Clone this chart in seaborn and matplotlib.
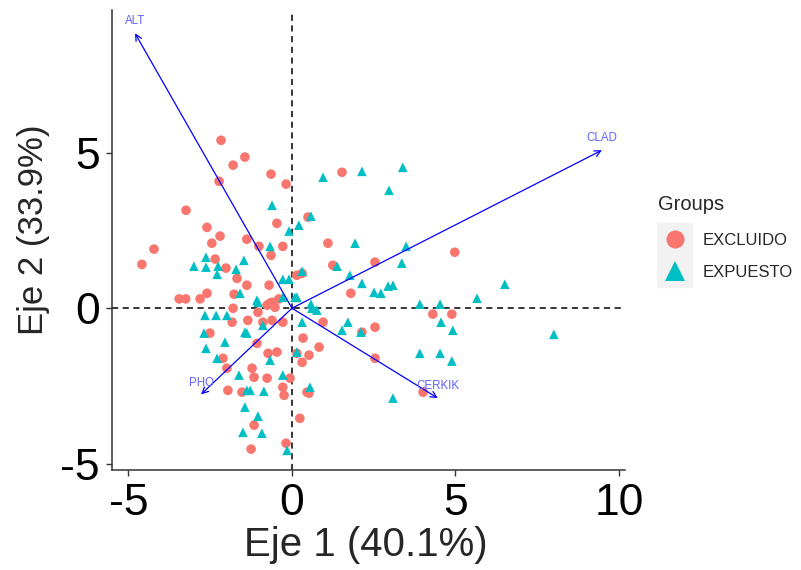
import numpy as np
import pandas as pd
import matplotlib
matplotlib.use("Agg")
import matplotlib.pyplot as plt
import seaborn as sns
from matplotlib.lines import Line2D
from matplotlib.patches import Rectangle

# PCA scores
excl_x = [-2.17, -1.44, -1.80, -0.64, -0.18, -2.23, -3.24, -2.60, -2.20, -2.45,
          -1.38, -4.22, -4.59, -0.46, -1.01, -0.28, -0.64, -2.35, -2.02, -1.68,
          -1.38, -0.70, -2.60, -1.77, 0.15, 0.31, 0.49, -3.45, -3.25, -2.81,
          -0.67, -0.52, -0.76, -0.61, -1.35, -1.80, -0.89, -0.61, -0.28, -2.51,
          -1.07, 0.34, -0.73, -0.46, 0.15, 0.31, -2.11, -1.99, -1.22, -1.16,
          -0.76, -0.06, -0.28, -1.96, -1.53, -0.24, 0.46, 0.24, -1.16, -1.25,
          -0.18, 1.53, 1.10, 2.54, 4.98, 1.25, 1.80, 4.31, 4.89, 0.95,
          2.54, 2.14, 0.83, 0.52, 2.54, 0.52, 4.01, -1.04, -1.83, -0.40]
excl_y = [5.40, 4.86, 4.60, 4.31, 3.99, 4.08, 3.15, 2.60, 2.32, 2.09,
          2.22, 1.90, 1.41, 2.73, 1.99, 1.99, 1.70, 1.58, 1.29, 0.96,
          0.74, 0.74, 0.48, 0.45, 1.06, 1.12, 2.93, 0.30, 0.30, 0.30,
          0.16, 0.03, 0.10, 0.19, -0.39, 0.00, -0.45, -0.39, -0.45, -0.80,
          -1.13, -0.96, -1.45, -1.41, -1.45, -1.74, -1.61, -1.93, -1.93, -2.22,
          -2.25, -2.25, -2.54, -2.64, -2.70, -2.80, -2.70, -3.54, -3.76, -4.53,
          -4.34, 4.37, 2.09, 1.48, 1.80, 1.38, 0.48, -0.19, -0.19, -0.45,
          -0.61, -0.77, -1.25, -1.51, -1.61, -2.73, -2.70, -0.13, -0.45, 0.30]

expu_x = [-0.61, -0.09, 0.21, -0.67, -2.63, -3.00, -2.63, -2.26, -2.29, -1.71,
          -1.47, -0.28, -0.09, 0.31, -1.59, -1.07, 0.15, -0.28, -2.66, -2.32,
          -1.99, -0.89, 0.31, -2.69, -1.38, -2.05, -2.63, -2.29, -0.67, -1.62,
          -0.28, -1.38, -1.28, -0.86, -1.44, -1.04, -1.50, -0.92, -0.15, 0.95,
          2.14, 3.39, 2.97, 0.58, 1.93, 3.49, 1.38, 3.36, 1.77, 2.14,
          2.51, 2.72, 2.94, 3.09, 0.09, 0.58, 3.91, 4.53, 5.66, 0.76,
          1.71, 1.53, 2.11, 4.56, 4.92, 0.15, 3.91, 4.53, 4.89, 0.55,
          3.09, 6.51, 8.01, 0.61, -1.04, -1.44]
expu_y = [3.31, 2.48, 2.67, 1.99, 1.64, 1.35, 1.32, 1.35, 1.09, 1.25,
          1.54, 0.93, 0.93, 1.19, 0.48, 0.26, 0.35, 0.35, -0.23, -0.23,
          -0.23, -0.55, -0.45, -0.80, -0.80, -1.09, -1.29, -1.61, -1.67, -2.15,
          -2.15, -2.64, -2.64, -2.67, -3.18, -3.47, -3.99, -4.02, -4.57, 4.21,
          4.40, 4.53, 3.79, 2.96, 2.09, 1.99, 1.35, 1.45, 1.06, 0.80,
          0.51, 0.48, 0.71, 0.74, 0.35, 0.13, 0.13, 0.13, 0.32, -0.06,
          -0.45, -0.71, -0.77, -0.45, -0.71, -1.41, -1.45, -1.45, -1.70, -2.54,
          -2.89, 0.77, -0.84, 0.00, 0.19, -0.77]

# variable loadings (arrow tips)
var_names = ["ALT", "CLAD", "PHO", "CERKIK"]
var_x = [-4.80, 9.48, -2.78, 4.46]
var_y = [8.84, 5.08, -2.77, -2.89]

groups = ["EXCLUIDO", "EXPUESTO"]
colors = {"EXCLUIDO": "#F8766D", "EXPUESTO": "#00BFC4"}

df = pd.DataFrame({
    "PC1": excl_x + expu_x,
    "PC2": excl_y + expu_y,
    "Groups": ["EXCLUIDO"] * len(excl_x) + ["EXPUESTO"] * len(expu_x),
})

sns.set_style("ticks")
plt.rcParams["font.family"] = ["Liberation Sans", "DejaVu Sans"]
plt.rcParams["axes.unicode_minus"] = False

fig = plt.figure(figsize=(8.01, 5.70), dpi=100)
ax = fig.add_axes([0.14, 0.175, 0.64, 0.807])

ax.axhline(0, color="black", ls=(0, (4, 3)), lw=1.1, zorder=1)
ax.axvline(0, color="black", ls=(0, (4, 3)), lw=1.1, zorder=1)

sns.scatterplot(data=df, x="PC1", y="PC2", hue="Groups", style="Groups",
                markers={"EXCLUIDO": "o", "EXPUESTO": "^"}, palette=colors,
                s=48, linewidth=0, ax=ax, legend=False, zorder=3)

for name, vx, vy in zip(var_names, var_x, var_y):
    ax.annotate("", xy=(vx, vy), xytext=(0, 0),
                arrowprops=dict(arrowstyle="->", color="blue", lw=0.9,
                                shrinkA=0, shrinkB=0, mutation_scale=11),
                zorder=4)
    ax.text(vx, vy + 0.38, name, color="#6060ff", fontsize=8.3,
            ha="center", va="center", zorder=5)

ax.set_xlim(-5.5, 10.18)
ax.set_ylim(-5.21, 9.58)
ax.set_xticks([-5, 0, 5, 10])
ax.set_yticks([-5, 0, 5])
ax.set_xlabel("Eje 1 (40.1%)", fontsize=29)
ax.set_ylabel("Eje 2 (33.9%)", fontsize=25)
ax.xaxis.set_label_coords(0.495, -0.122)
ax.yaxis.set_label_coords(-0.121, 0.522)
ax.tick_params(labelsize=32, length=4, width=1, color="#333333", pad=5,
               labelcolor="black")
for side in ["top", "right"]:
    ax.spines[side].set_visible(False)
for side in ["left", "bottom"]:
    ax.spines[side].set_color("#333333")
    ax.spines[side].set_linewidth(1.1)

# legend with grey key background, as in ggplot
handles = [
    Line2D([], [], marker="o", ls="", color=colors["EXCLUIDO"], markersize=13, markeredgewidth=0),
    Line2D([], [], marker="^", ls="", color=colors["EXPUESTO"], markersize=15, markeredgewidth=0),
]
fig.patches.append(Rectangle((657 / 801, 1 - 287 / 570), 35 / 801, 64 / 570,
                             transform=fig.transFigure, color="#F2F2F2", zorder=0))
fig.text(658 / 801, 1 - 205 / 570, "Groups", fontsize=14.5, ha="left", va="center")
leg = fig.legend(handles, groups, loc="center left",
                 bbox_to_anchor=(661.7 / 801, 1 - 256.5 / 570), frameon=False,
                 fontsize=12, handlelength=1.6, handletextpad=0.87,
                 labelspacing=1.05, borderaxespad=0, borderpad=0)

fig.savefig("out.png", dpi=100)
